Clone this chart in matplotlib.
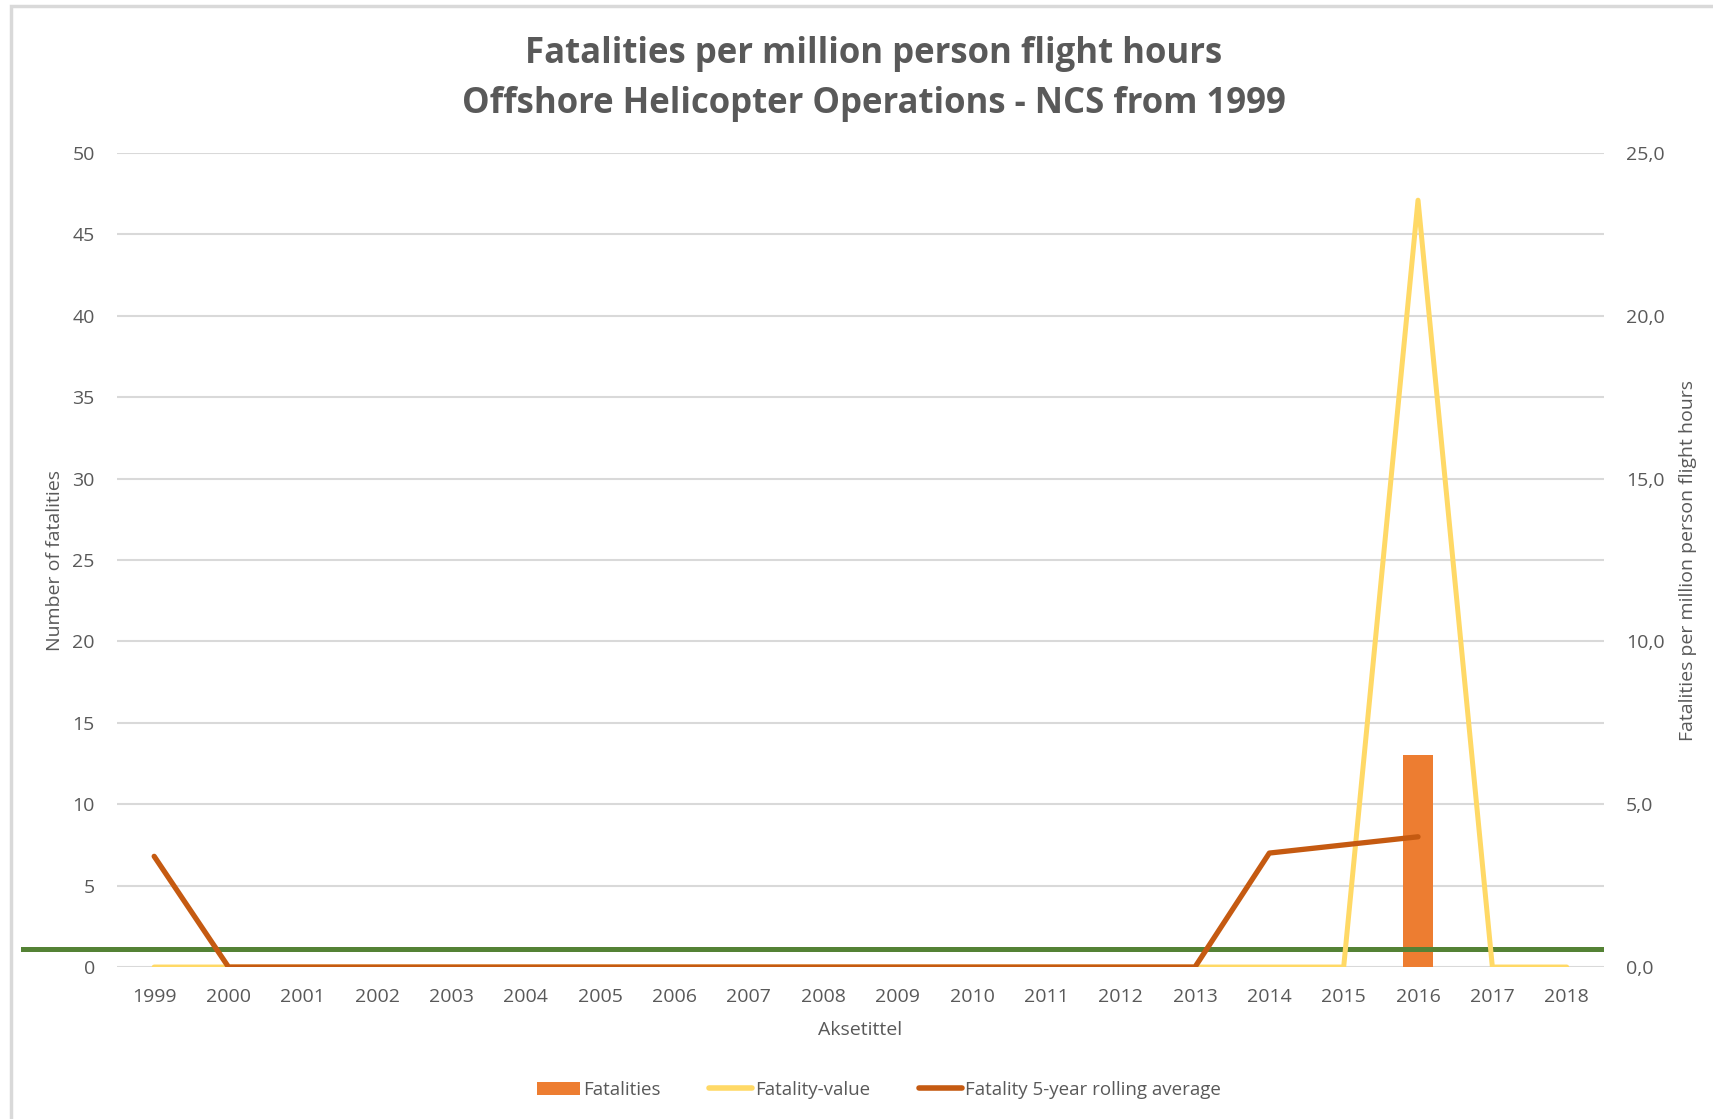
import matplotlib.pyplot as plt
import matplotlib.transforms as mtransforms
from matplotlib.patches import Rectangle, Patch
from matplotlib.lines import Line2D
import numpy as np

# Data
years = [str(y) for y in range(1999, 2019)]
fatalities = [0, 0, 0, 0, 0, 0, 0, 0, 0, 0, 0, 0, 0, 0, 0, 0, 0, 13, 0, 0]
fatality_value = [0, 0, 0, 0, 0, 0, 0, 0, 0, 0, 0, 0, 0, 0, 0, 0, 0, 23.55, 0, 0]
rolling_avg = [3.4, 0, 0, 0, 0, 0, 0, 0, 0, 0, 0, 0, 0, 0, 0, 3.5, 3.75, 4.0,
               np.nan, np.nan]
reference_level = 1.1  # on the left (count) axis

left_ticks = list(range(0, 51, 5))
right_ticks = [0, 5, 10, 15, 20, 25]

TEXT = "#595959"
GRID = "#D9D9D9"
ORANGE = "#ED7D31"
YELLOW = "#FFD966"
BROWN = "#C55A11"
GREEN = "#548235"

plt.rcParams['font.family'] = ['Open Sans', 'DejaVu Sans']

fig = plt.figure(figsize=(17.13, 11.19), dpi=100)
ax = fig.add_axes([0.0683, 0.1358, 0.868, 0.7275])
ax2 = ax.twinx()

x = np.arange(len(years))

# Bars on the count axis
ax.bar(x, fatalities, width=0.4, color=ORANGE, zorder=2)
ax.set_ylim(0, 50)
ax.set_yticks(left_ticks)
ax.set_xlim(-0.5, len(years) - 0.5)
ax.set_xticks(x)
ax.set_xticklabels(years)
ax.yaxis.grid(True, color=GRID, linewidth=1.5, zorder=0)
ax.set_axisbelow(True)

# Lines on the rate axis
ax2.plot(x, fatality_value, color=YELLOW, linewidth=3.6, solid_capstyle='round', zorder=3)
ax2.plot(x, rolling_avg, color=BROWN, linewidth=3.8, solid_capstyle='round', zorder=4)
ax2.set_ylim(0, 25)
ax2.set_yticks(right_ticks)
ax2.set_yticklabels([f"{t:.1f}".replace('.', ',') for t in right_ticks])

# Reference level, spanning across the left margin
trans = mtransforms.blended_transform_factory(ax.transAxes, ax.transData)
ax.plot([-0.063, 0.998], [reference_level, reference_level], transform=trans,
        color=GREEN, linewidth=3.6, clip_on=False, zorder=5)

for a in (ax, ax2):
    for s in a.spines.values():
        s.set_visible(False)
    a.tick_params(length=0, colors=TEXT, labelsize=14)
ax.tick_params(axis='x', pad=15)
ax.tick_params(axis='y', pad=16)
ax2.tick_params(axis='y', pad=16)

ax.set_ylabel("Number of fatalities", color=TEXT, fontsize=14, labelpad=6)
ax2.set_ylabel("Fatalities per million person flight hours", color=TEXT, fontsize=14, labelpad=10)
ax.set_xlabel("Aksetittel", color=TEXT, fontsize=14, labelpad=11)

fig.text(0.51, 0.952, "Fatalities per million person flight hours", ha='center', va='center',
         fontsize=25, fontweight='bold', color=TEXT)
fig.text(0.51, 0.907, "Offshore Helicopter Operations - NCS from 1999", ha='center', va='center',
         fontsize=25, fontweight='bold', color=TEXT)

handles = [Patch(facecolor=ORANGE, edgecolor='none'),
           Line2D([0], [0], color=YELLOW, linewidth=4, solid_capstyle='round'),
           Line2D([0], [0], color=BROWN, linewidth=4, solid_capstyle='round')]
labels = ["Fatalities", "Fatality-value", "Fatality 5-year rolling average"]
fig.legend(handles, labels, loc='center', bbox_to_anchor=(0.513, 0.026), ncol=3,
           frameon=False, fontsize=13.5, labelcolor=TEXT, handlelength=2.3,
           handletextpad=0.15, columnspacing=2.6)

# Chart frame
fig.patches.append(Rectangle((0.0065, -0.05), 1.1, 1.045, transform=fig.transFigure,
                             fill=False, edgecolor=GRID, linewidth=2.5))

fig.savefig("out.png", dpi=100)
